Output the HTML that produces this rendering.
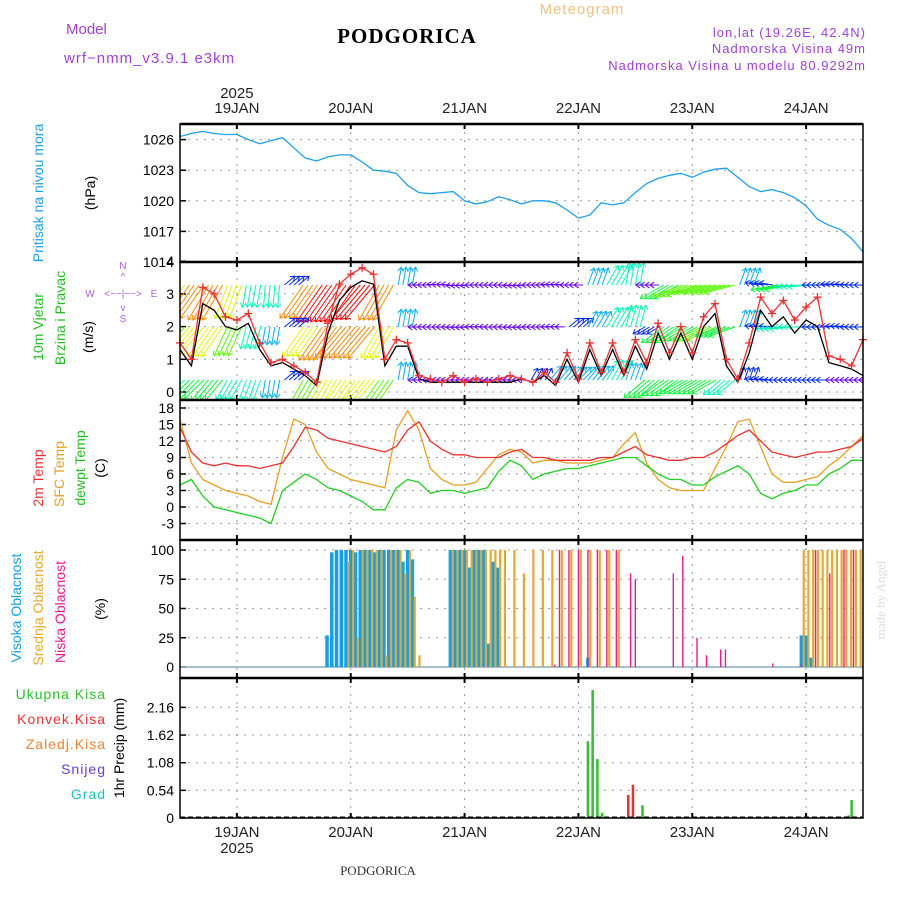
<!DOCTYPE html>
<html><head><meta charset="utf-8"><style>
body{margin:0;background:#fff}
svg{display:block;font-family:"Liberation Sans",sans-serif}
</style></head><body>
<svg id="c" width="900" height="900" viewBox="0 0 900 900" xmlns="http://www.w3.org/2000/svg">
<text x="66" y="34" font-size="15" fill="#a040e0">Model</text>
<text x="64" y="63" font-size="15" fill="#a040e0" letter-spacing="1">wrf−nmm_v3.9.1  e3km</text>
<text x="407" y="43" font-size="21" font-weight="bold" font-family="Liberation Serif,serif" text-anchor="middle" letter-spacing="1">PODGORICA</text>
<text x="582" y="14" font-size="15" fill="#f0c080" text-anchor="middle" letter-spacing="1">Meteogram</text>
<text x="866" y="37" font-size="13" fill="#a040e0" text-anchor="end" letter-spacing="1">lon,lat (19.26E, 42.4N)</text>
<text x="866" y="53" font-size="13" fill="#a040e0" text-anchor="end" letter-spacing="1">Nadmorska Visina 49m</text>
<text x="866" y="70" font-size="13" fill="#a040e0" text-anchor="end" letter-spacing="1">Nadmorska Visina u modelu 80.9292m</text>
<text x="378" y="875" font-size="13" font-family="Liberation Serif,serif" text-anchor="middle" fill="#333">PODGORICA</text>
<text transform="translate(885,600) rotate(-90)" font-size="13" fill="#d8e0d8" font-family="Liberation Serif,serif" text-anchor="middle">made by Angel</text>
<g id="plots"></g>
</svg>
<script>
// ---- data ----
const pressure=[1026.3,1026.6,1026.8,1026.6,1026.5,1026.5,1026.0,1025.6,1025.9,1026.2,1025.2,1024.2,1023.9,1024.3,1024.5,1024.5,1023.8,1023.0,1022.9,1022.7,1021.5,1020.8,1020.7,1020.8,1020.9,1020.0,1019.7,1019.9,1020.4,1020.1,1019.7,1020.0,1020.0,1019.8,1019.1,1018.3,1018.6,1019.8,1019.6,1019.8,1020.8,1021.7,1022.2,1022.5,1022.7,1022.3,1022.8,1023.1,1023.2,1022.3,1021.4,1020.9,1021.1,1020.8,1020.3,1019.5,1018.2,1017.6,1017.2,1016.3,1015.0];
const windSpeed=[1.3,0.8,2.7,2.5,2.0,1.9,2.1,1.3,0.8,0.9,0.7,0.5,0.2,1.8,2.8,3.2,3.4,3.3,0.8,1.4,1.4,0.4,0.3,0.3,0.3,0.3,0.3,0.3,0.3,0.3,0.4,0.3,0.5,0.2,1.0,0.3,1.3,0.5,1.3,0.5,1.4,0.7,1.8,1.0,1.8,1.0,2.0,2.4,0.8,0.3,1.2,2.5,2.0,2.3,1.8,2.2,2.0,0.9,0.8,0.7,0.5];
const windGust=[1.5,1.0,3.2,3.0,2.3,2.2,2.4,1.5,0.9,1.0,0.8,0.6,0.3,2.1,3.3,3.6,3.8,3.6,1.0,1.6,1.5,0.5,0.4,0.3,0.5,0.3,0.4,0.3,0.4,0.5,0.4,0.3,0.6,0.3,1.2,0.4,1.5,0.6,1.5,0.6,1.6,0.9,2.1,1.2,2.0,1.2,2.3,2.7,1.0,0.4,1.5,2.9,2.4,2.8,2.2,2.6,2.9,1.1,1.0,0.8,1.6];
const temp2m=[14.5,10,8,7.5,8,7.5,7.5,7,7.5,8,11,14.5,14,12.5,12,11.5,11,10.5,10,11,14,15.5,12,10.5,9.5,9.5,9,9,9,10,10.5,9,9,8.5,8.5,8.5,8.5,9,9,10,11,9.5,9,8.5,8.5,9,9,10,11.5,13,14,12,10,9.5,9,9.5,10,10,10.5,11,12.5];
const tempSfc=[16,8,5,4,3,2.5,2,1,0.5,9,16,15,10,7,6,5,4.5,4,3.5,14,17.5,14,7,5,4,4,4.5,7,9.5,10.5,10,8,8.5,8.5,8,8,8,8.5,9,11.5,13.5,8,5,3.5,3,3,3,7,11,15.5,16,11,6,4.5,4.5,5,5.5,7.5,9,11,13];
const dewpt=[4,5,2,0,-0.5,-1,-1.5,-2,-3,3,4.5,6,5,3.5,3,2,1,-0.5,-0.5,3.5,5,4.5,2.5,3,3,2.5,3,3.5,6.5,8.5,7.5,5,6,6.5,7,7,7.5,8,8.5,9,9,7.5,6,5,5,4,4,5.5,6.5,7.5,6,2.5,1.5,2.5,3,4,4,6,7,8.5,8.5];
const windSpdTop=[8,9,9,8,5,5,3,9,10,10,10,9,4,2,2,2,2,2,2,2,2,2,4,5,5,2,6,7,7,7,4,3,6,5,3,3,3];
const windDirTop=[130,125,120,110,100,95,-40,125,125,125,130,120,-80,180,185,175,180,180,175,180,185,180,-70,-60,-80,180,150,160,165,165,-70,190,170,175,180,185,180];
const windSpdMid=[7,8,8,7,5,4,3,8,9,9,9,8,4,2,2,2,2,2,2,2,2,3,4,5,5,3,6,6,7,6,4,3,5,5,3,3,3];
const windDirMid=[135,130,125,115,105,100,-40,125,125,130,130,120,-80,180,180,178,182,180,178,180,182,-40,-60,-60,-75,150,145,150,155,160,-70,185,175,180,180,185,180];
const windSpdBot=[5,6,6,5,5,4,3,7,8,8,8,7,4,2,2,2,2,2,2,3,4,4,4,5,4,6,6,6,6,5,3,3,3,3,3,2,2];
const windDirBot=[140,135,130,120,110,100,-40,120,120,125,130,125,-80,180,180,180,180,180,180,-60,-50,-45,-50,-60,-70,140,145,150,150,140,-70,185,180,180,180,180,180];
const highHours=[31,32,33,34,35,36,37,38,39,40,41,42,43,44,45,46,47,48,49,57,58,59,60,61,62,63,64,65,66,67,86,131,132,133];
const highVals=[27,98,100,100,100,100,98,100,100,100,98,100,100,100,100,100,90,100,92,100,100,100,100,85,100,100,100,20,90,85,8,27,27,8];
const midHours=[35.5,36.5,37.5,38.5,39.5,40.5,41.5,42.5,43.5,44.5,45.5,46.5,47.5,48.5,49.5,50.5,57.5,58.5,59.5,60.5,61.5,62.5,63.5,64.5,65.5,66.5,67.5,68.5,70.5,72.5,74.5,76.5,78.5,80.5,82.5,84.5,86.5,88.5,90.5,92.5,131.5,132.5,133.5,134.5,135.5,136.5,137.5,138.5,139.5,140.5,141.5,142.5,143.5];
const midVals=[90,100,25,100,100,100,100,100,10,100,100,100,80,100,60,10,100,100,100,100,100,100,100,100,100,100,100,100,100,80,100,100,100,100,100,100,100,100,100,100,100,100,100,100,100,100,100,100,100,100,100,100,100];
const lowHours=[79,80,82,84,86,88,90,92,95,96,104,106,109,111,114,115,125,131,134,137,140,142];
const lowVals=[2,100,100,100,100,100,100,100,80,75,80,95,25,10,15,15,3,2,100,80,100,100];
const precipHours=[86,87,88,89,96,97.5];
const precipTotal=[1.5,2.5,1.15,0.1,0,0.25];
const precipConvHours=[94.5,95.5];
const precipConv=[0.45,0.65];
const precipHours2=[141,141.6];
const precipTotal2=[0.05,0.35];
const dayLabels=["19JAN","20JAN","21JAN","22JAN","23JAN","24JAN"];
const pressTicks=[1014,1017,1020,1023,1026];
const windTicks=[0,1,2,3,4];
const tempTicks=[-3,0,3,6,9,12,15,18];
const cloudTicks=[0,25,50,75,100];
const precipTicks=[0,0.54,1.08,1.62,2.16];

// ---- scales ----
const X0=180,X1=863;
const x=h=>X0+(h/144)*(X1-X0);
const xi=(i,n)=>x(i*144/(n-1));
const P={p:[124,262],w:[262,400],t:[400,540],c:[540,678],r:[678,818]};
const yP=v=>262-(v-1014)*10.2;
const yW=v=>392-v*32.7;
const yT=v=>507-v*5.5;
const yC=v=>667-v*1.17;
const yR=v=>818-v*51.2;

const NS="http://www.w3.org/2000/svg";
const root=document.getElementById('plots');
function el(tag,attrs,parent){const e=document.createElementNS(NS,tag);for(const k in attrs)e.setAttribute(k,attrs[k]);(parent||root).appendChild(e);return e;}
function txt(s,attrs,parent){const e=el('text',attrs,parent);e.textContent=s;return e;}

for(const k in P){
  const [t,b]=P[k];
  const g=el('g',{});
  
  
  for(let d=0;d<6;d++){
    const gx=x(12+24*d);
    const l=el('line',{x1:gx,y1:t,x2:gx,y2:b,stroke:'#999','stroke-dasharray':'2,6'},g);
    
    
    el('line',{x1:gx,y1:t,x2:gx,y2:t+5,stroke:'#000','stroke-width':2},g);
    el('line',{x1:gx,y1:b,x2:gx,y2:b-5,stroke:'#000','stroke-width':2},g);
  }
}
function hgrid(ticks,fy,fmt,name){
  ticks.forEach(v=>{
    const yy=fy(v);
    const l=el('line',{x1:X0,y1:yy,x2:X1,y2:yy,stroke:'#999','stroke-dasharray':'2,6'});
    
    
    el('line',{x1:X0,y1:yy,x2:X0+6,y2:yy,stroke:'#000','stroke-width':1.5});
    const t=txt(fmt(v),{x:174,y:yy+5,'font-size':14,'text-anchor':'end'});
    
    
  });
}
hgrid(pressTicks,yP,v=>v,'pressure');
hgrid(windTicks,yW,v=>v,'wind');
hgrid(tempTicks,yT,v=>v,'temp');
hgrid(cloudTicks,yC,v=>v,'cloud');
hgrid(precipTicks,yR,v=>v===0?'0':String(v),'precip');

dayLabels.forEach((d,i)=>{
  const t=txt(d,{x:x(12+24*i),y:113,'font-size':15,'text-anchor':'middle',fill:'#222'});
  
  
  const b=txt(d,{x:x(12+24*i),y:837,'font-size':15,'text-anchor':'middle',fill:'#222'});
  
  
});
const yr1=txt('2025',{x:x(12),y:98,'font-size':15,'text-anchor':'middle',fill:'#222'});


const yr2=txt('2025',{x:x(12),y:853,'font-size':15,'text-anchor':'middle',fill:'#222'});



function line(arr,fy,color,name,w){
  const pts=arr.map((v,i)=>xi(i,arr.length).toFixed(1)+','+fy(v).toFixed(1)).join(' ');
  const p=el('polyline',{points:pts,fill:'none',stroke:color,'stroke-width':w||1.3});
  
  
  return p;
}
const cp=el('clipPath',{id:'cp'});el('rect',{x:X0,y:124,width:X1-X0,height:138},cp);
line(pressure,yP,'#1ca0f0','pressure-line').setAttribute('clip-path','url(#cp)');

// wind arrows
const cw=el('clipPath',{id:'cw'});el('rect',{x:X0,y:262,width:X1-X0,height:138},cw);
const wg=el('g',{'clip-path':'url(#cw)'});
function arrows(spd,dir,rowY,name){
  const g=el('g',{},wg);
  
  
  const step=(X1-X0)/(spd.length-1);
  spd.forEach((s,i)=>{
    const ox=xi(i,spd.length),a=dir[i]*Math.PI/180,L=s*4.5;
    const hue=Math.max(0,Math.min(285,330-s*33));
    const c='hsl('+hue+',95%,50%)';
    const ex=ox+Math.cos(a)*L,ey=rowY+Math.sin(a)*L;
    for(let k=0;k<4;k++){
      const dx=k*step/4-step/2;
      const ar=el('g',{stroke:c,'stroke-width':1,fill:'none'},g);
      
      
      el('line',{x1:ox+dx,y1:rowY,x2:ex+dx,y2:ey},ar);
      const h1=a+Math.PI*0.8,h2=a-Math.PI*0.8;
      el('polyline',{points:(ex+dx+Math.cos(h1)*5)+','+(ey+Math.sin(h1)*5)+' '+(ex+dx)+','+ey+' '+(ex+dx+Math.cos(h2)*5)+','+(ey+Math.sin(h2)*5)},ar);
    }
  });
}
arrows(windSpdTop,windDirTop,285,'wind-arrows-top');
arrows(windSpdMid,windDirMid,327,'wind-arrows-mid');
arrows(windSpdBot,windDirBot,380,'wind-arrows-bottom');
line(windSpeed,yW,'#000','wind-speed-line',1.3);
line(windGust,yW,'#f03030','wind-gust-line',1.3);
windGust.forEach((v,i)=>{
  const cx=xi(i,windGust.length),cy=yW(v);
  const m=el('path',{d:`M${cx-4},${cy}h8M${cx},${cy-4}v8`,stroke:'#f03030','stroke-width':1.3});
  
  
});

line(tempSfc,yT,'#e8a020','sfc-temp-line');
line(temp2m,yT,'#f03030','temp-2m-line');
line(dewpt,yT,'#20d020','dewpoint-line');

el('line',{x1:X0,y1:yC(0),x2:X1,y2:yC(0),stroke:'#8ab','stroke-width':1.5});
function bars(hours,vals,fy,y0,color,w,name){
  hours.forEach((h,i)=>{
    const r=el('rect',{x:x(h)-w/2,y:fy(vals[i]),width:w,height:y0-fy(vals[i]),fill:color});
    
    
  });
}
bars(highHours,highVals,yC,yC(0),'#10a0f0',3.5,'high-cloud-bar');
bars(midHours,midVals,yC,yC(0),'#e8a830',2.2,'mid-cloud-bar');
bars(lowHours,lowVals,yC,yC(0),'#f01890',1.4,'low-cloud-bar');

bars(precipHours,precipTotal,yR,818,'#30c030',2.5,'precip-total-bar');
bars(precipConvHours,precipConv,yR,818,'#f03030',2.5,'precip-conv-bar');
bars(precipHours2,precipTotal2,yR,818,'#30c030',2.5,'precip-total-bar');
el('line',{x1:X0,y1:817,x2:X1,y2:817,stroke:'#000','stroke-dasharray':'5,3'});

for(const k in P){
  const [t,b]=P[k];
  const f=el('rect',{x:X0,y:t,width:X1-X0,height:b-t,fill:'none',stroke:'#000','stroke-width':1.5});
  
  
  el('line',{x1:X0,y1:t,x2:X1,y2:t,stroke:'#000','stroke-width':2.5});
}

function vt(s,cx,cy,color,name){
  const t=txt(s,{transform:`translate(${cx},${cy}) rotate(-90)`,'font-size':14,'text-anchor':'middle',fill:color});
  
  
}
vt('Pritisak na nivou mora',43,193,'#1ca0f0','pressure-title');
vt('(hPa)',95,193,'#000','pressure-unit');
vt('10m Vjetar',43,327,'#20c020','wind-title-1');
vt('Brzina i Pravac',65,318,'#20c020','wind-title-2');
vt('(m/s)',93,337,'#000','wind-unit');
vt('2m Temp',43,478,'#f03030','temp2m-title');
vt('SFC Temp',64,474,'#e8a020','sfc-title');
vt('dewpt Temp',85,468,'#20c020','dewpt-title');
vt('(C)',105,468,'#000','temp-unit');
vt('Visoka Oblacnost',21,608,'#10a0f0','high-cloud-title');
vt('Srednja Oblacnost',43,608,'#e8a830','mid-cloud-title');
vt('Niska Oblacnost',65,612,'#f01890','low-cloud-title');
vt('(%)',105,609,'#000','cloud-unit');
vt('1hr Precip (mm)',124,748,'#000','precip-title');
const cg=el('g',{fill:'#b060e0','font-size':10,'text-anchor':'middle'});


txt('N',{x:123,y:269},cg);txt('^',{x:123,y:280},cg);txt('W',{x:90,y:297},cg);txt('E',{x:154,y:297},cg);
txt('<−−|−−>',{x:123,y:297},cg);txt('v',{x:123,y:311},cg);txt('S',{x:123,y:322},cg);
[['Ukupna Kisa','#30c030',699],['Konvek.Kisa','#f03030',724],['Zaledj.Kisa','#f08030',749],['Snijeg','#6040f0',774],['Grad','#20c0c0',799]].forEach(l=>{
  const t=txt(l[0],{x:106,y:l[2],'font-size':14,'text-anchor':'end',fill:l[1],'letter-spacing':1});
  
  
});
</script>
</body></html>
